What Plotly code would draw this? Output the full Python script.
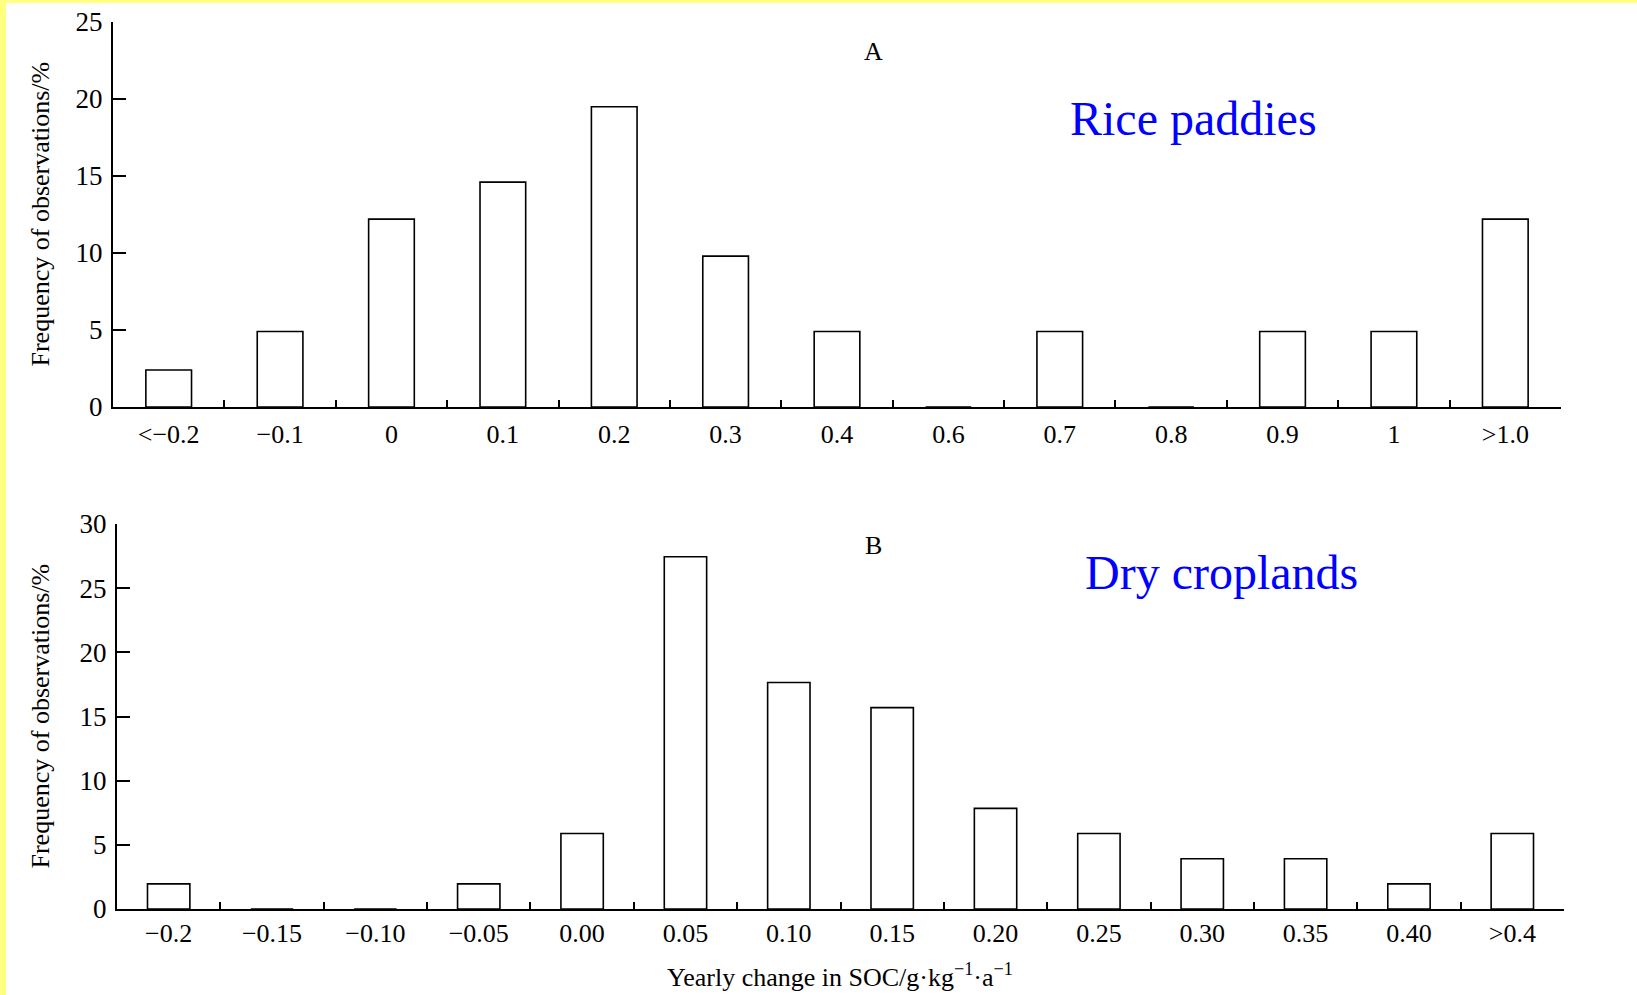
import plotly.graph_objects as go

# ---- data ----
rice_categories = ["<−0.2", "−0.1", "0", "0.1", "0.2", "0.3", "0.4", "0.6", "0.7", "0.8", "0.9", "1", ">1.0"]
rice_values = [2.4, 4.9, 12.2, 14.6, 19.5, 9.8, 4.9, 0, 4.9, 0, 4.9, 4.9, 12.2]

dry_categories = ["−0.2", "−0.15", "−0.10", "−0.05", "0.00", "0.05", "0.10", "0.15",
                  "0.20", "0.25", "0.30", "0.35", "0.40", ">0.4"]
dry_values = [1.96, 0, 0, 1.96, 5.88, 27.45, 17.65, 15.69, 7.84, 5.88, 3.92, 3.92, 1.96, 5.88]

rice_yticks = [0, 5, 10, 15, 20, 25]
dry_yticks = [0, 5, 10, 15, 20, 25, 30]

W, H = 1637, 995
FONT = "Liberation Serif, Times New Roman, serif"

def px_x(p):
    return p / W

def px_y(p):
    return 1 - p / H

fig = go.Figure()

bar_style = dict(marker=dict(color="white", line=dict(color="black", width=1.6)), showlegend=False,
                 hoverinfo="x+y")

fig.add_trace(go.Bar(x=rice_categories, y=rice_values, xaxis="x", yaxis="y", **bar_style))
fig.add_trace(go.Bar(x=dry_categories, y=dry_values, xaxis="x2", yaxis="y2", **bar_style))

xtickfont = dict(family=FONT, size=26, color="black")
ytickfont = dict(family=FONT, size=27, color="black")

xcommon = dict(type="category", showline=True, linecolor="black", linewidth=2,
               ticks="inside", tickson="boundaries", ticklen=7, tickwidth=1.5, tickcolor="black",
               tickfont=xtickfont, showgrid=False, zeroline=False)
ycommon = dict(showline=True, linecolor="black", linewidth=2, ticks="inside", ticklen=13,
               tickwidth=2, tickcolor="black", tickfont=ytickfont, showgrid=False, zeroline=False,
               ticklabelstandoff=3)

fig.update_layout(
    width=W, height=H,
    margin=dict(l=0, r=0, t=0, b=0, pad=0, autoexpand=False),
    paper_bgcolor="white", plot_bgcolor="white",
    bargap=0.59,
    xaxis=dict(domain=[px_x(113), px_x(1561)], anchor="y", ticklabelstandoff=3,
               range=[-0.5, len(rice_categories) - 0.5], **xcommon),
    yaxis=dict(domain=[px_y(407), px_y(22)], anchor="x", range=[0, 25],
               tickvals=rice_yticks, **ycommon),
    xaxis2=dict(domain=[px_x(117), px_x(1564)], anchor="y2", ticklabelstandoff=0,
                range=[-0.5, len(dry_categories) - 0.5], **xcommon),
    yaxis2=dict(domain=[px_y(909), px_y(524)], anchor="x2", range=[0, 30],
                tickvals=dry_yticks, **ycommon),
)

ann_font = dict(family=FONT, size=26, color="black")
annotations = [
    dict(text="Frequency of observations/%", x=px_x(40), y=(px_y(407) + px_y(22)) / 2,
         textangle=-90, font=ann_font),
    dict(text="Frequency of observations/%", x=px_x(40), y=(px_y(909) + px_y(524)) / 2,
         textangle=-90, font=ann_font),
    dict(text="A", x=px_x(873), y=px_y(51), font=ann_font),
    dict(text="B", x=px_x(873), y=px_y(545), font=ann_font),
    dict(text="Rice paddies", x=px_x(1193), y=px_y(118),
         font=dict(family=FONT, size=48, color="#0000FF")),
    dict(text="Dry croplands", x=px_x(1221), y=px_y(572),
         font=dict(family=FONT, size=48, color="#0000FF")),
    dict(text="Yearly change in SOC/g·kg<sup>−1</sup>·a<sup>−1</sup>", x=px_x(840), y=px_y(975),
         font=ann_font),
]
for a in annotations:
    a.update(xref="paper", yref="paper", showarrow=False, xanchor="center", yanchor="middle")
fig.update_layout(annotations=annotations)

# pale yellow frame strips along the top and left edges
fig.add_shape(type="rect", xref="paper", yref="paper", x0=0, x1=1, y0=px_y(3), y1=1,
              fillcolor="#FFFF80", line=dict(width=0), layer="below")
fig.add_shape(type="rect", xref="paper", yref="paper", x0=0, x1=px_x(6), y0=0, y1=1,
              fillcolor="#FFFF80", line=dict(width=0), layer="below")

fig.write_html("out.html", config={"displayModeBar": False},
               post_script="document.body.style.margin='0';document.body.style.overflow='hidden';")
